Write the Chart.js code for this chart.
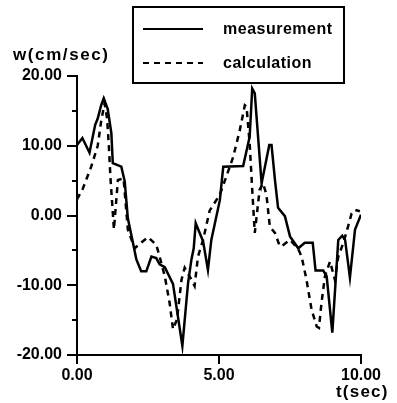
<!DOCTYPE html>
<html>
<head>
<meta charset="utf-8">
<script src="https://cdn.jsdelivr.net/npm/chart.js@4"></script>
<style>
  html, body { margin: 0; padding: 0; background: #fff; }
  #wrap { position: relative; width: 397px; height: 403px; overflow: hidden; }
  canvas { position: absolute; left: 0; top: 0; }
  .txt { position: absolute; font-family: "Liberation Sans", Arial, sans-serif; font-weight: bold; color: #000; white-space: nowrap; }
  #ytitle { left: 13px; top: 45px; font-size: 17px; line-height: 20px; letter-spacing: 1.6px; }
  #xtitle { left: 336px; top: 382px; font-size: 17px; line-height: 20px; letter-spacing: 1.2px; }
  #legend { position: absolute; left: 132px; top: 6px; width: 209px; height: 74px; border: 2px solid #000; background: #fff; }
  .lrow { position: absolute; left: 0; height: 20px; width: 100%; }
  .lrow svg { position: absolute; left: 9px; top: 0; }
  .lrow span { position: absolute; left: 89px; top: 0; font-family: "Liberation Sans", Arial, sans-serif; font-weight: bold; font-size: 16px; line-height: 20px; letter-spacing: 0.5px; }
</style>
</head>
<body>
<div id="wrap">
  <canvas id="c" width="397" height="403"></canvas>
  <div class="txt" id="ytitle">w(cm/sec)</div>
  <div class="txt" id="xtitle">t(sec)</div>
  <div id="legend"></div>
</div>
<script>
// ---- data ----
const measT = [0, 0.19, 0.44, 0.64, 0.73, 0.85, 0.94, 1.08, 1.21, 1.26, 1.56, 1.68, 1.79, 1.97, 2.09, 2.26, 2.44, 2.62, 2.79, 2.91, 3.09, 3.38, 3.71, 3.91, 4.03, 4.11, 4.18, 4.44, 4.61, 4.73, 5.03, 5.15, 5.85, 6.08, 6.17, 6.26, 6.50, 6.77, 6.85, 6.97, 7.08, 7.32, 7.50, 7.79, 8.02, 8.30, 8.40, 8.67, 8.79, 8.99, 9.20, 9.34, 9.44, 9.61, 9.79, 10.0];
const measW = [10.1, 11.1, 9.0, 13.0, 13.9, 15.8, 16.8, 15.3, 11.8, 7.5, 7.0, 4.9, -0.4, -3.9, -6.3, -8.0, -8.0, -5.9, -6.1, -7.0, -7.4, -9.8, -18.7, -9.7, -6.3, -4.7, -1.1, -3.7, -7.8, -3.5, 2.2, 7.0, 7.1, 11.3, 18.2, 17.5, 4.6, 10.1, 10.1, 5.1, 1.1, -0.1, -3.0, -4.7, -3.9, -3.9, -7.9, -7.9, -8.7, -16.8, -3.5, -2.9, -3.5, -8.9, -2.0, 0.1];
const calcT = [0, 0.2, 0.5, 0.73, 0.85, 0.97, 1.06, 1.12, 1.18, 1.30, 1.44, 1.64, 1.79, 2.03, 2.26, 2.50, 2.79, 2.91, 3.09, 3.26, 3.38, 3.52, 3.68, 3.79, 4.03, 4.14, 4.26, 4.44, 4.67, 5.03, 5.26, 5.50, 5.73, 5.91, 5.97, 6.08, 6.17, 6.26, 6.43, 6.55, 6.67, 6.79, 6.97, 7.14, 7.20, 7.50, 7.79, 7.91, 8.08, 8.26, 8.44, 8.52, 8.61, 8.73, 8.91, 9.08, 9.20, 9.38, 9.55, 9.67, 9.79, 9.96];
const calcW = [2.3, 3.8, 7.0, 10.0, 13.5, 16.1, 13.9, 10.1, 5.3, -2.0, 5.1, 5.3, -2.0, -4.7, -3.9, -3.1, -4.2, -5.9, -8.7, -12.5, -16.3, -14.9, -9.2, -7.5, -9.2, -10.1, -5.9, -3.5, 0.7, 3.0, 5.6, 8.4, 12.2, 15.8, 15.6, 10.3, 3.7, -2.5, 3.7, 4.6, 3.0, -1.6, -2.5, -4.4, -4.4, -3.5, -4.8, -5.9, -9.2, -13.5, -15.9, -16.1, -12.5, -8.7, -6.6, -9.2, -5.9, -3.9, -1.5, 0.3, 0.8, 0.6];
const seriesNames = ["measurement", "calculation"];
const xTickValues = [0, 5, 10];
const yTickValues = [-20, -10, 0, 10, 20];
const yMinorValues = [-15, -5, 5, 15];

const toPts = (ts, ws) => ts.map((t, i) => ({ x: t, y: ws[i] }));
const FONT = { family: "'Liberation Sans', Arial, sans-serif", size: 16, weight: 'bold' };

const minorTicks = {
  id: 'minorTicks',
  afterDraw(chart) {
    const y = chart.scales.y, ctx = chart.ctx, left = chart.chartArea.left;
    ctx.save();
    ctx.strokeStyle = '#000';
    ctx.lineWidth = 2;
    yMinorValues.forEach(v => {
      const py = Math.round(y.getPixelForValue(v));
      ctx.beginPath();
      ctx.moveTo(left - 5, py);
      ctx.lineTo(left, py);
      ctx.stroke();
    });
    ctx.restore();
  }
};

const chart = new Chart(document.getElementById('c'), {
  type: 'line',
  data: {
    datasets: [
      { label: seriesNames[0], data: toPts(measT, measW), borderColor: '#000', borderWidth: 2.5, pointRadius: 0, tension: 0, fill: false },
      { label: seriesNames[1], data: toPts(calcT, calcW), borderColor: '#000', borderWidth: 2.5, borderDash: [6, 5], pointRadius: 0, tension: 0, fill: false }
    ]
  },
  options: {
    responsive: false,
    animation: false,
    layout: { padding: { top: 76, right: 36, left: 0, bottom: 0 } },
    plugins: { legend: { display: false }, tooltip: { enabled: false } },
    scales: {
      x: {
        type: 'linear', min: 0, max: 10,
        afterBuildTicks: s => { s.ticks = xTickValues.map(v => ({ value: v })); },
        afterFit: s => { s.height = 48; },
        ticks: { callback: v => Number(v).toFixed(2), font: FONT, color: '#000', maxRotation: 0, autoSkip: false, padding: 2 },
        grid: { drawOnChartArea: false, tickLength: 9, color: '#000', lineWidth: 2 },
        border: { color: '#000', width: 2 }
      },
      y: {
        type: 'linear', min: -20, max: 20,
        afterBuildTicks: s => { s.ticks = yTickValues.map(v => ({ value: v })); },
        afterFit: s => { s.width = 77; },
        ticks: { callback: v => Number(v).toFixed(2), font: FONT, color: '#000', padding: 5 },
        grid: { drawOnChartArea: false, tickLength: 10, color: '#000', lineWidth: 2 },
        border: { color: '#000', width: 2 }
      }
    }
  },
  plugins: [minorTicks]
});

// HTML legend built from the chart's datasets
const legend = document.getElementById('legend');
chart.data.datasets.forEach((ds, i) => {
  const row = document.createElement('div');
  row.className = 'lrow';
  row.style.top = (i === 0 ? 11 : 45) + 'px';
  const dash = ds.borderDash ? ds.borderDash.join(',') : 'none';
  row.innerHTML = '<svg width="62" height="20"><line x1="0" y1="10" x2="60" y2="10" stroke="#000" stroke-width="2" stroke-dasharray="' + dash + '"/></svg><span></span>';
  row.querySelector('span').textContent = ds.label;
  legend.appendChild(row);
});
</script>
</body>
</html>
